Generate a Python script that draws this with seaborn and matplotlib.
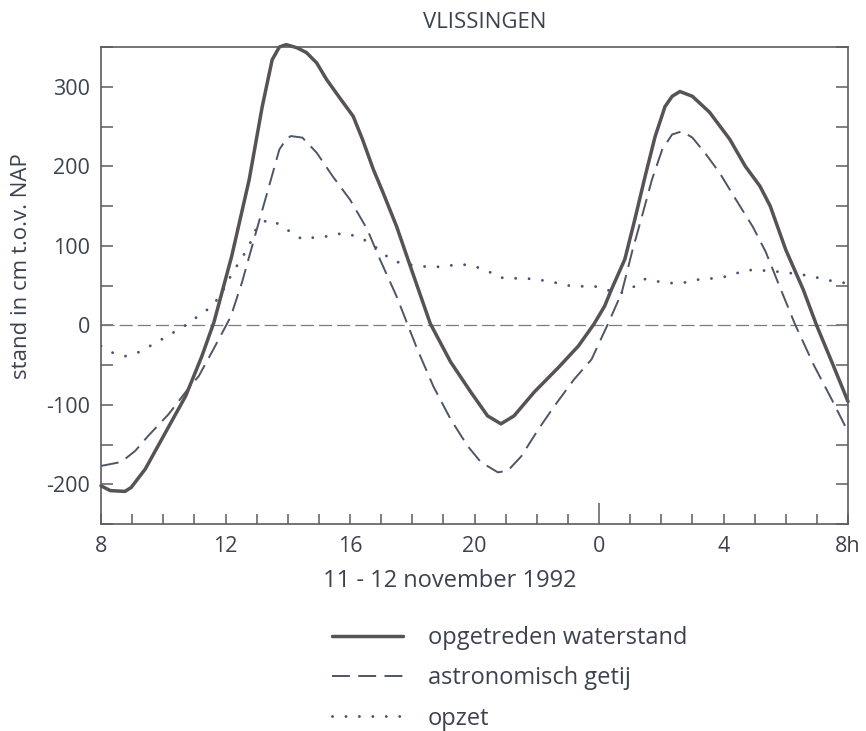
import matplotlib
matplotlib.use("Agg")
import matplotlib.pyplot as plt
import seaborn as sns
import numpy as np
import pandas as pd
from matplotlib.lines import Line2D

# ---- data (hours since 0h on 11 Nov 1992; 24 = 0h on 12 Nov) ----
obs_t = [8.0, 8.3, 8.77, 8.97, 9.42, 10.07, 10.72, 11.24, 11.63, 12.2, 12.76, 13.18,
         13.5, 13.73, 13.95, 14.3, 14.6, 14.93, 15.25, 15.67, 16.1, 16.4, 16.75, 17.06,
         17.5, 17.94, 18.58, 19.23, 19.88, 20.42, 20.85, 21.27, 21.92, 22.7, 23.34,
         23.83, 24.18, 24.4, 24.83, 25.15, 25.48, 25.8, 26.12, 26.35, 26.6, 27.0, 27.55,
         28.2, 28.7, 29.17, 29.5, 30.0, 30.56, 31.0, 31.5, 32.0]
obs_v = [-202, -208, -209, -204, -181, -135, -89, -39, 4, 87, 183, 275,
         334, 350, 353, 349, 343, 330, 309, 286, 263, 234, 196, 167,
         124, 74, 2, -46, -84, -114, -124, -114, -84, -53, -26,
         1, 24, 45, 83, 133, 187, 237, 275, 288, 294, 288, 268,
         234, 200, 175, 150, 95, 45, -1, -48, -96]

ast_t = [8.0, 8.65, 9.1, 9.52, 10.17, 10.72, 11.14, 11.56, 12.01, 12.17, 12.53, 12.98,
         13.4, 13.73, 13.95, 14.1, 14.47, 14.93, 15.45, 16.0, 16.55, 16.96, 17.5, 17.87,
         18.16, 18.68, 19.23, 19.78, 20.2, 20.75, 21.07, 21.5, 22.05, 22.56, 23.2, 23.76,
         24.28, 24.73, 25.06, 25.38, 25.7, 26.03, 26.35, 26.67, 27.0, 27.4, 27.87, 28.4,
         28.94, 29.36, 29.8, 30.3, 30.9, 31.5, 32.0]
ast_v = [-177, -172, -158, -139, -112, -84, -64, -34, -1, 11, 54, 117,
         175, 221, 234, 238, 236, 217, 187, 158, 121, 83, 36, -1,
         -30, -77, -118, -152, -172, -185, -183, -165, -131, -102, -68, -43,
         1, 41, 92, 137, 183, 221, 240, 244, 236, 217, 192, 158,
         124, 92, 49, 1, -50, -95, -134]

surge_t = [8.0, 8.33, 8.77, 9.2, 9.58, 9.94, 10.33, 10.72, 11.07, 11.43, 11.8, 12.17,
           12.43, 12.66, 12.85, 13.0, 13.35, 13.73, 14.1, 14.47, 14.93, 15.35, 15.77,
           16.2, 16.64, 17.3, 17.7, 18.16, 18.58, 19.07, 19.5, 19.9, 20.35, 20.8, 21.2,
           21.65, 22.1, 22.55, 23.0, 23.4, 23.86, 24.3, 24.73, 25.1, 25.48, 25.9, 26.35,
           26.83, 27.25, 27.7, 28.2, 28.6, 29.0, 29.5, 29.9, 30.8, 31.2, 31.7, 32.0]
surge_v = [-26, -34, -39, -34, -26, -18, -9, 0, 10, 20, 35, 62,
           79, 93, 108, 123, 133, 127, 117, 108, 111, 112, 116,
           112, 104, 83, 77, 75, 73, 74, 77, 75, 70, 60, 59,
           59, 57, 54, 50, 49, 49, 44, 41, 48, 58, 55, 53,
           54, 58, 59, 62, 68, 70, 68, 67, 62, 58, 54, 53]

xtick_pos = [8, 12, 16, 20, 24, 28, 32]
xtick_lab = ["8", "12", "16", "20", "0", "4", "8h"]
ytick_pos = [-200, -100, 0, 100, 200, 300]
ytick_lab = ["-200", "-100", "0", "100", "200", "300"]

title = "VLISSINGEN"
xlabel = "11 - 12 november 1992"
ylabel = "stand in cm t.o.v. NAP"
labels = ["opgetreden waterstand", "astronomisch getij", "opzet"]

# ---- style ----
sns.set_style("ticks")
plt.rcParams['font.family'] = ['Open Sans', 'DejaVu Sans']
txt = "#3d4250"
spine_c = "#5c5c60"
c_obs = "#565256"
c_ast = "#4d5567"
c_sur = "#44537a"

fig = plt.figure(figsize=(8.66, 7.31), dpi=100)
ax = fig.add_axes([101/866, 1-524/731, (848-101)/866, (524-47)/731])

ls_obs = dict(color=c_obs, linewidth=2.5, linestyle='-', solid_capstyle='round',
              solid_joinstyle='round')
ls_ast = dict(color=c_ast, linewidth=1.4, linestyle=(0, (9.2, 4.3)))
ls_sur = dict(color=c_sur, linewidth=2.1, linestyle=(0, (0.01, 4.6)),
              dash_capstyle='round')

df_obs = pd.DataFrame({"t": obs_t, "v": obs_v})
df_ast = pd.DataFrame({"t": ast_t, "v": ast_v})
df_sur = pd.DataFrame({"t": surge_t, "v": surge_v})

ax.axhline(0, color="#7a7a80", linewidth=0.9, linestyle=(0, (10.5, 4)), zorder=1)
sns.lineplot(data=df_sur, x="t", y="v", ax=ax, sort=False, estimator=None, **ls_sur)
sns.lineplot(data=df_ast, x="t", y="v", ax=ax, sort=False, estimator=None, **ls_ast)
sns.lineplot(data=df_obs, x="t", y="v", ax=ax, sort=False, estimator=None,
             clip_on=False, **ls_obs)

ax.set_xlim(8, 32)
ax.set_ylim(-250, 350)

ax.set_xticks(xtick_pos)
ax.set_xticklabels(xtick_lab)
ax.set_xticks(np.arange(8, 33, 1), minor=True)
ax.set_yticks(ytick_pos)
ax.set_yticklabels(ytick_lab)
ax.set_yticks(np.arange(-250, 351, 50), minor=True)

ax.tick_params(axis='x', which='both', direction='in', length=7, width=1.1,
               color=spine_c, top=False, bottom=True, labelsize=15.5,
               labelcolor=txt, pad=9)
ax.tick_params(axis='y', which='both', direction='in', length=8.5, width=1.1,
               color=spine_c, left=True, right=True, labelsize=15.5,
               labelcolor=txt, pad=8)
# longer tick at midnight
for tk in ax.xaxis.get_major_ticks():
    if abs(tk.get_loc() - 24) < 1e-9:
        tk.tick1line.set_markersize(15)

for s in ax.spines.values():
    s.set_color(spine_c)
    s.set_linewidth(1.2)
    s.set_visible(True)

ax.set_xlabel(xlabel, fontsize=17, color=txt)
ax.xaxis.set_label_coords(0.467, -0.094)
ax.set_ylabel(ylabel, fontsize=16, color=txt)
ax.yaxis.set_label_coords(-0.092, 0.54)
ax.text(0.513, 1.052, title, transform=ax.transAxes, ha='center', va='center',
        fontsize=16, color=txt)

handles = [Line2D([], [], **ls_obs), Line2D([], [], **ls_ast), Line2D([], [], **ls_sur)]
leg = fig.legend(handles, labels, loc='upper left', bbox_to_anchor=(332/866, 1-626/731),
                 frameon=False, fontsize=17, handlelength=3.0, handletextpad=1.05,
                 labelspacing=0.69, borderpad=0, borderaxespad=0)
for t in leg.get_texts():
    t.set_color(txt)

fig.savefig("out.png", dpi=100)
